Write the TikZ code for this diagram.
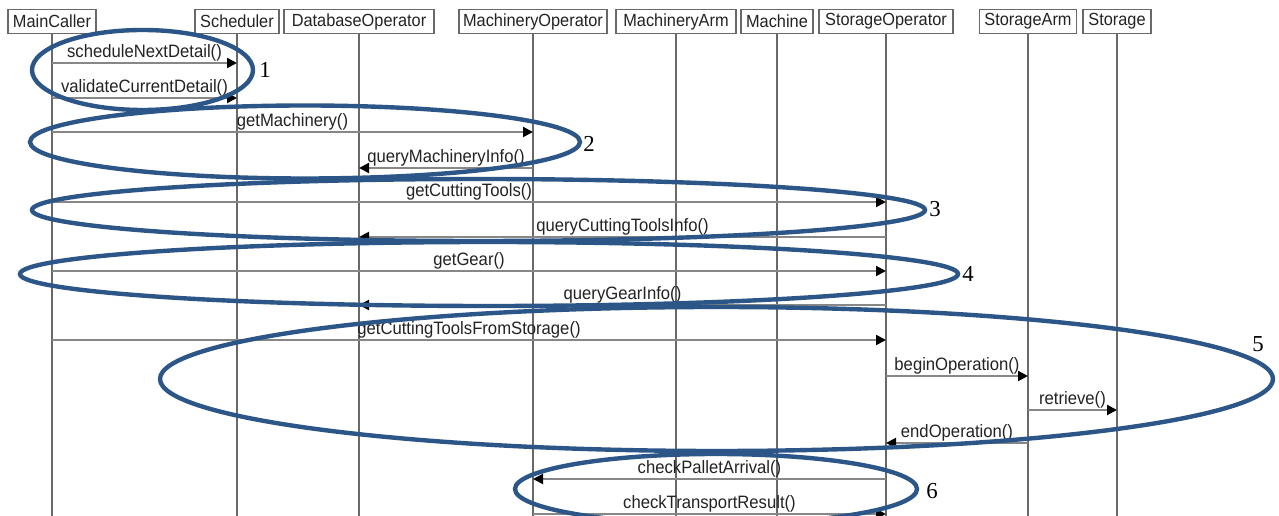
\documentclass[tikz,border=0pt]{standalone}
\usepackage{fontspec}
\setmainfont{Liberation Sans}
\newfontfamily\numfont{Liberation Serif}
\newfontfamily\diafont{Liberation Sans}[FakeStretch=0.93]
\usetikzlibrary{arrows.meta}
\definecolor{ellblue}{RGB}{44,86,135}
\definecolor{linegray}{RGB}{135,135,135}
\definecolor{lifegray}{RGB}{105,105,105}
\definecolor{txt}{RGB}{35,35,35}
\begin{document}
\begin{tikzpicture}[x=0.02cm,y=-0.02cm,
  hdr/.style={draw=lifegray, line width=0.6pt, minimum height=0.49cm, inner sep=0pt, text=txt, font=\diafont\fontsize{10}{12}\selectfont},
  life/.style={draw=lifegray, line width=0.8pt},
  msg/.style={draw=linegray, line width=1.15pt, -{Triangle[length=2mm,width=2mm,color=black]}},
  lbl/.style={midway, above, inner sep=0.4pt, text=txt, font=\diafont\fontsize{10.2}{12}\selectfont},
  ell/.style={draw=ellblue, line width=2.5pt},
  num/.style={font=\numfont\fontsize{13}{15}\selectfont, text=black, inner sep=0pt}]
\fill[white] (0,0) rectangle (1279,516);
\useasboundingbox (0,0) rectangle (1279,516);
\clip (0,0) rectangle (1279,516);
% headers
\node[hdr, minimum width=1.76cm] (MC) at (52,21.5) {MainCaller};
\node[hdr, minimum width=1.68cm] (SC) at (237,21.5) {Scheduler};
\node[hdr, minimum width=3.0cm] (DB) at (359,21.5) {DatabaseOperator};
\node[hdr, minimum width=2.96cm] (MO) at (533,21.5) {MachineryOperator};
\node[hdr, minimum width=2.4cm] (MA) at (676,21.5) {MachineryArm};
\node[hdr, minimum width=1.44cm] (MCH) at (777,21.5) {Machine};
\node[hdr, minimum width=2.68cm] (SO) at (886,21.5) {StorageOperator};
\node[hdr, minimum width=1.94cm] (SA) at (1028,21.5) {StorageArm};
\node[hdr, minimum width=1.36cm] (ST) at (1117,21.5) {Storage};
\coordinate (bot) at (0,520);
% lifelines
\foreach \n in {MC,SC,DB,MO,MA,MCH,SO,SA,ST}
  \draw[life] (\n) -- (\n |- bot);
% messages
\draw[msg] (MC |- 0,63) -- node[lbl]{scheduleNextDetail()} (SC |- 0,63);
\draw[msg] (MC |- 0,98) -- node[lbl]{validateCurrentDetail()} (SC |- 0,98);
\draw[msg] (MC |- 0,132) -- node[lbl]{getMachinery()} (MO |- 0,132);
\draw[msg] (MO |- 0,168) -- node[lbl]{queryMachineryInfo()} (DB |- 0,168);
\draw[msg] (MC |- 0,202) -- node[lbl]{getCuttingTools()} (SO |- 0,202);
\draw[msg] (SO |- 0,237) -- node[lbl]{queryCuttingToolsInfo()} (DB |- 0,237);
\draw[msg] (MC |- 0,271) -- node[lbl]{getGear()} (SO |- 0,271);
\draw[msg] (SO |- 0,305) -- node[lbl]{queryGearInfo()} (DB |- 0,305);
\draw[msg] (MC |- 0,340) -- node[lbl]{getCuttingToolsFromStorage()} (SO |- 0,340);
\draw[msg] (SO |- 0,376) -- node[lbl]{beginOperation()} (SA |- 0,376);
\draw[msg] (SA |- 0,410) -- node[lbl]{retrieve()} (ST |- 0,410);
\draw[msg] (SA |- 0,443) -- node[lbl]{endOperation()} (SO |- 0,443);
\draw[msg] (SO |- 0,479) -- node[lbl]{checkPalletArrival()} (MO |- 0,479);
\draw[msg] (MO |- 0,514) -- node[lbl]{checkTransportResult()} (SO |- 0,514);
% highlight ellipses
\draw[ell] (142.5,70) ellipse [x radius=110.5, y radius=40];
\draw[ell] (305,142) ellipse [x radius=275, y radius=36.5];
\draw[ell] (478.5,210) ellipse [x radius=446.5, y radius=31];
\draw[ell] (489,274) ellipse [x radius=469, y radius=32];
\draw[ell] (716.5,379) ellipse [x radius=556.5, y radius=72];
\draw[ell] (716,489) ellipse [x radius=201, y radius=35];
% numbers
\node[num] (n1) at (265,70) {1};
\node[num] (n2) at (589,144) {2};
\node[num] (n3) at (935,209) {3};
\node[num] (n4) at (968,274) {4};
\node[num] (n5) at (1258,344) {5};
\node[num] (n6) at (932,491) {6};
\end{tikzpicture}
\end{document}
